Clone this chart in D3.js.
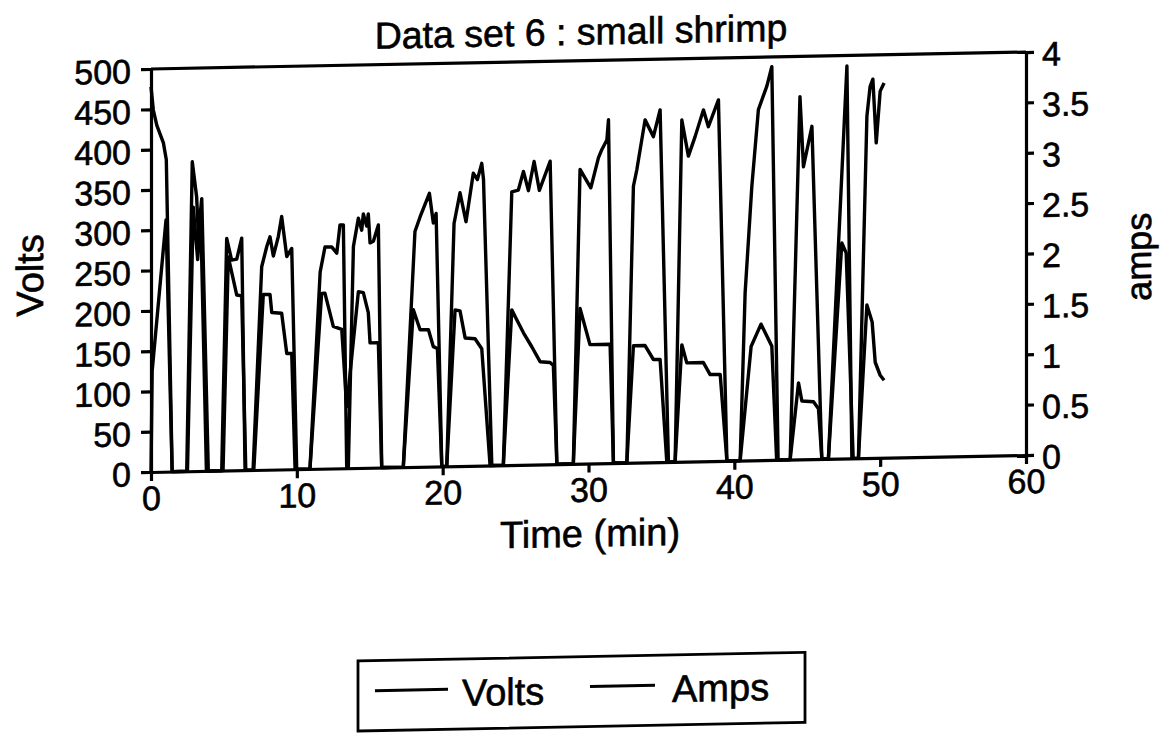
<!DOCTYPE html>
<html lang="en">
<head>
<meta charset="utf-8">
<title>Data set 6 : small shrimp</title>
<script src="https://d3js.org/d3.v7.min.js"></script>
<style>
  body { margin: 0; background: #fff; }
  svg text { font-family: "Liberation Sans", Arial, sans-serif; fill: #000; stroke: #000; stroke-width: 0.6px; }
  .axis path, .axis line { stroke: #000; stroke-width: 3.2px; }
</style>
</head>
<body>
<svg id="chart" width="1172" height="733"></svg>
<script>
// time (min), value pairs
var volts = [
  [0,478],[0.16,449],[0.4,430],[0.85,408],[1.05,387],[1.45,0],
  [2.45,0],[2.83,384],[3.13,340],[3.24,295],[3.48,338],[3.93,0],
  [4.85,0],[5.19,288],[5.53,261],[5.88,262],[6.22,288],[6.45,0],
  [7.0,0],[7.59,252],[7.94,277],[8.16,289],[8.39,265],[8.73,289],[8.96,314],[9.31,264],[9.65,274],[9.99,0],
  [10.9,0],[11.6,244],[11.93,275],[12.39,275],[12.74,267],[12.96,302],[13.19,302],[13.42,0],
  [13.53,0],[13.88,275],[14.22,310],[14.45,295],[14.56,315],[14.79,300],[14.9,315],[15.02,279],[15.25,281],[15.59,301],[15.82,0],
  [17.3,0],[18.1,292],[18.45,310],[19.09,339],[19.36,302],[19.55,314],[19.94,0],
  [20.28,0],[20.78,301],[21.19,339],[21.6,303],[22.1,363],[22.38,355],[22.68,375],[22.8,355],[23.37,0],
  [24.16,0],[24.74,339],[25.19,341],[25.54,364],[25.88,340],[26.27,376],[26.63,340],[27.37,376],[27.83,0],
  [28.96,0],[29.42,365],[30.16,342],[30.68,379],[30.91,389],[31.26,401],[31.37,426],[31.71,0],
  [32.63,0],[33.08,343],[33.31,363],[33.88,425],[34.45,404],[34.91,437],[35.48,0],
  [35.94,0],[36.4,424],[36.85,379],[37.31,403],[37.88,436],[38.22,415],[38.91,448],[39.49,0],
  [40.4,0],[40.74,208],[41.2,340],[41.65,435],[42.23,464],[42.57,488],[43.0,0],
  [43.83,0],[44.5,450],[44.74,363],[45.32,413],[46.0,0],
  [46.45,0],[47.72,487],[48.06,0],
  [48.51,0],[49.09,424],[49.31,461],[49.5,470],[49.73,391],[50.0,455],[50.27,465]
];

var amps = [
  [0,0],[0.08,1.0],[1.03,2.5],[1.45,0],
  [2.5,0],[2.9,2.62],[3.2,2.1],[3.4,2.6],[3.8,0],
  [4.94,0],[5.3,2.12],[5.88,1.74],[6.22,1.73],[6.5,0],
  [7.05,0],[7.7,1.74],[8.16,1.74],[8.28,1.56],[8.96,1.55],[9.31,1.15],[9.65,1.15],[9.88,0],
  [10.9,0],[11.7,1.74],[11.93,1.74],[12.5,1.41],[13.08,1.38],[13.42,0.61],
  [14.22,1.75],[14.56,1.74],[14.9,1.54],[15.02,1.24],[15.59,1.24],[15.82,0],
  [17.3,0],[17.99,1.56],[18.45,1.36],[19.02,1.36],[19.36,1.19],[19.64,1.17],[19.94,0],
  [20.28,0],[20.85,1.55],[21.19,1.54],[21.54,1.27],[22.22,1.26],[22.68,1.16],[23.25,0],
  [24.16,0],[24.74,1.54],[25.08,1.44],[25.54,1.31],[26.11,1.17],[26.68,1.02],[27.37,1.01],[27.59,0.98],[27.83,0],
  [28.96,0],[29.42,1.54],[30.1,1.18],[31.48,1.18],[31.71,0],
  [32.63,0],[33.08,1.16],[33.88,1.16],[34.45,1.02],[34.91,1.02],[35.37,0],
  [35.94,0],[36.4,1.16],[36.74,0.98],[37.88,0.98],[38.34,0.86],[39.03,0.86],[39.49,0],
  [40.4,0],[41.15,1.13],[41.83,1.35],[42.57,1.13],[42.9,0],
  [43.83,0],[44.4,0.76],[44.63,0.58],[45.43,0.57],[45.77,0.5],[46.0,0],
  [46.45,0],[47.37,2.14],[47.67,2.04],[48.15,0],
  [48.51,0],[49.09,1.52],[49.45,1.35],[49.66,0.95],[50.0,0.82],[50.27,0.77]
];

var timeTicks = [0, 10, 20, 30, 40, 50, 60];
var voltTicks = d3.range(0, 501, 50);
var ampTicks = [0, 0.5, 1, 1.5, 2, 2.5, 3, 3.5, 4];

(function () {
  var plotLeft = 151, plotRight = 1026, plotTop = 69, plotBottom = 472;

  var svg = d3.select("#chart");
  // the scan is slightly skewed, so the whole sheet leans a little
  var g = svg.append("g")
    .attr("transform", "translate(" + plotLeft + ",0) skewY(-1.11) translate(" + (-plotLeft) + ",0)");

  var x = d3.scaleLinear().domain([0, 60]).range([plotLeft, plotRight]);
  var yV = d3.scaleLinear().domain([0, 500]).range([plotBottom, plotTop]);
  var yA = d3.scaleLinear().domain([0, 4]).range([plotBottom, plotTop]);

  g.append("g").attr("class", "axis")
    .attr("transform", "translate(" + plotLeft + ",0)")
    .call(d3.axisLeft(yV).tickValues(voltTicks).tickSize(10).tickSizeOuter(0).tickPadding(10))
    .selectAll("text").style("font-size", "34px").attr("dy", "0.4em");

  g.append("g").attr("class", "axis")
    .attr("transform", "translate(" + plotRight + ",0)")
    .call(d3.axisRight(yA).tickValues(ampTicks).tickSize(8).tickSizeOuter(0).tickPadding(8)
      .tickFormat(function (d) { return String(d); }))
    .selectAll("text").style("font-size", "34px").attr("dy", "0.4em");

  g.append("g").attr("class", "axis")
    .attr("transform", "translate(0," + plotBottom + ")")
    .call(d3.axisBottom(x).tickValues(timeTicks).tickSize(9).tickSizeOuter(0).tickPadding(5))
    .selectAll("text").style("font-size", "34px");

  g.selectAll(".axis text").attr("fill", "#000");

  g.append("line")
    .attr("x1", plotLeft).attr("x2", plotRight).attr("y1", plotTop).attr("y2", plotTop)
    .style("stroke", "#000").style("stroke-width", 3.2);

  var lineV = d3.line().x(function (d) { return x(d[0]); }).y(function (d) { return yV(d[1]); });
  var lineA = d3.line().x(function (d) { return x(d[0]); }).y(function (d) { return yA(d[1]); });

  g.append("path").datum(volts).attr("d", lineV)
    .style("fill", "none").style("stroke", "#000").style("stroke-width", 3.4).style("stroke-linejoin", "round");
  g.append("path").datum(amps).attr("d", lineA)
    .style("fill", "none").style("stroke", "#000").style("stroke-width", 3.4).style("stroke-linejoin", "round");

  g.append("text").attr("x", 581).attr("y", 53).attr("text-anchor", "middle")
    .style("font-size", "37.5px").text("Data set 6 : small shrimp");

  g.append("text").attr("x", 590).attr("y", 555).attr("text-anchor", "middle")
    .style("font-size", "38px").text("Time (min)");

  g.append("text").attr("transform", "translate(43,273) rotate(-90)").attr("text-anchor", "middle")
    .style("font-size", "38px").text("Volts");

  g.append("text").attr("transform", "translate(1151,276) rotate(-90)").attr("text-anchor", "middle")
    .style("font-size", "36px").text("amps");

  // legend
  var legend = g.append("g");
  legend.append("rect").attr("x", 358).attr("y", 665).attr("width", 447).attr("height", 70)
    .style("fill", "none").style("stroke", "#000").style("stroke-width", 2.8);
  var items = [
    {name: "Volts", x1: 375, x2: 448, tx: 462},
    {name: "Amps", x1: 590, x2: 655, tx: 672}
  ];
  items.forEach(function (it) {
    legend.append("line").attr("x1", it.x1).attr("x2", it.x2).attr("y1", 695).attr("y2", 695)
      .style("stroke", "#000").style("stroke-width", 3);
    legend.append("text").attr("x", it.tx).attr("y", 712).style("font-size", "38px").text(it.name);
  });
}());
</script>
</body>
</html>
